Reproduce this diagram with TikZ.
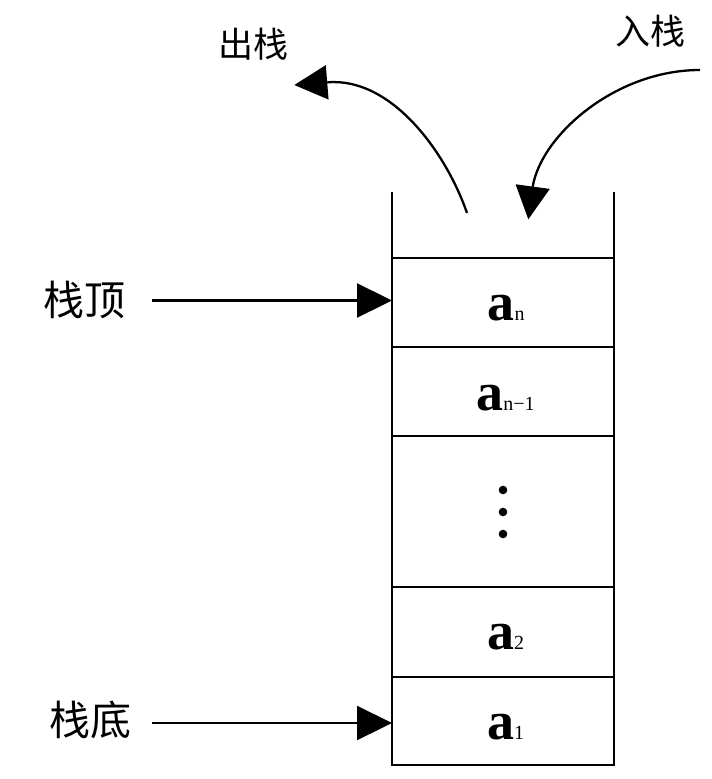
\documentclass[tikz,border=0pt]{standalone}
\usepackage{fontspec}
\setmainfont{Liberation Serif}
\newfontfamily\cjk{Noto Sans CJK SC}
\usetikzlibrary{arrows.meta}
\begin{document}
\begin{tikzpicture}[x=1pt,y=-1pt, line width=2.3pt,
  tip/.style={-{Triangle[length=35pt,width=34pt]}},
  ctip/.style={-{Triangle[length=33pt,width=34pt]}},
  cell/.style={draw, minimum width=222pt, inner sep=0pt, outer sep=0pt},
  side/.style={font=\cjk\fontsize{41}{44}\selectfont, inner sep=0pt},
  toplbl/.style={font=\cjk\fontsize{35}{40}\selectfont, inner sep=0pt},
  elem/.style={anchor=base, inner sep=0pt}]
\useasboundingbox (0,0) rectangle (712,779);
\newcommand\bigA{{\fontsize{54}{60}\selectfont\bfseries a}}
\newcommand\subT[1]{{\fontsize{20}{24}\selectfont #1}}
% stack cells
\node[cell, minimum height=89pt] (cn)    at (503,302.5) {};
\node[cell, minimum height=89pt] (cn1)   at (503,391.5) {};
\node[cell, minimum height=151pt] (cdots) at (503,511.5) {};
\node[cell, minimum height=90pt] (c2)    at (503,632) {};
\node[cell, minimum height=88pt] (c1)    at (503,721) {};
% open walls
\coordinate (wl) at (392,192);
\coordinate (wr) at (614,192);
\draw (wl) -- (cn.north west);
\draw (wr) -- (cn.north east);
% element labels
\node[elem] (tan)  at (506,320) {\bigA\subT{n}};
\node[elem] (tan1) at (505.5,410) {\bigA\subT{n−1}};
\node[elem] (ta2)  at (505.5,649) {\bigA\subT{2}};
\node[elem] (ta1)  at (505.5,739) {\bigA\subT{1}};
\fill (503,490) circle (4.3pt);
\fill (503,512) circle (4.3pt);
\fill (503,534) circle (4.3pt);
% side labels and pointers
\node[side] (ltop) at (84,300) {栈顶};
\node[side] (lbot) at (90,720) {栈底};
\coordinate (st) at (152,300.5);
\coordinate (sb) at (152,723);
\draw[tip] (st) -- (st -| cn.west);
\draw[tip] (sb) -- (sb -| c1.west);
% top labels and curved arrows
\node[toplbl] (lout) at (253,44) {出栈};
\node[toplbl] (lin)  at (650,31) {入栈};
\coordinate (os) at (467,213);
\coordinate (ob) at (327.7,82.3);
\coordinate (oe) at (294.3,85);
\draw (os) .. controls (445.7,151.6) and (391.2,77.2) .. (ob);
\draw[ctip] (ob) -- (oe);
\coordinate (is) at (700,70);
\coordinate (ib) at (532.7,186.7);
\coordinate (ie) at (528.3,219.3);
\draw (is) .. controls (615,70) and (541,135.8) .. (ib);
\draw[ctip] (ib) -- (ie);
\end{tikzpicture}
\end{document}
